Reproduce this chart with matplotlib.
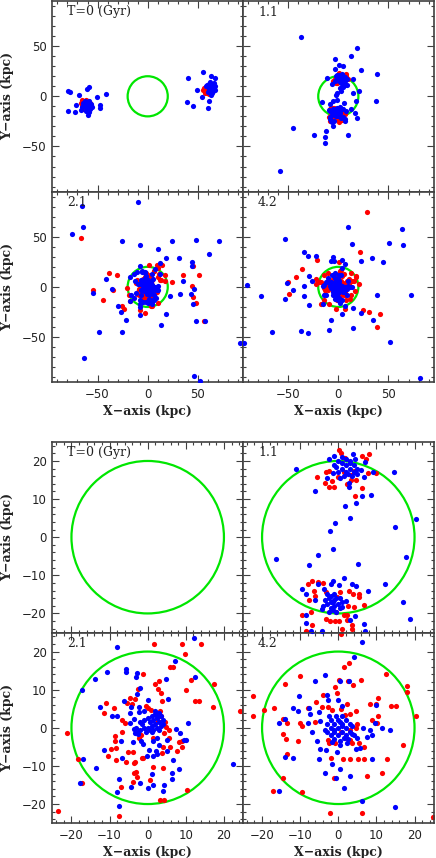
import numpy as np
import matplotlib.pyplot as plt
from matplotlib.patches import Circle
from matplotlib.ticker import MultipleLocator

plt.rcParams["font.family"] = "DejaVu Sans"

panel_labels = ["T=0 (Gyr)", "1.1", "2.1", "4.2"]
r_circle = 20.0

# ---- T = 0 ----
red_t0 = [(-64, -6), (-62, -4), (-60, -5), (-58, -7), (-65, -9), (-63, -11), (-59, -10),
          (-57, -9), (-61, -13), (-64, -13), (-66, -7), (-60, -8), (-62, -9), (-58, -12),
          (-65, -4),
          (57, 5), (59, 3), (56, 8), (58, 9), (60, 6), (61, 2), (55, 6), (59, 7), (62, 4),
          (57, 3)]
blue_t0 = [(-79.4, 5.6), (-77, 4.3), (-79.4, -14.7), (-72.7, -15.4), (-71.7, -8.7),
           (-68.4, 1.3), (-61, 7), (-58.4, 9.6), (-51, -0.3), (-41.7, 2.3), (-47.7, -8.7),
           (-47.7, -12), (-58.4, -16), (-59.4, -18.7), (-66, -13.7),
           (-61, -9), (-63, -8), (-59, -8), (-60, -11), (-62, -12), (-64, -10), (-58, -10),
           (-61, -6), (-63, -5), (-59, -5), (-57, -8), (-65, -11), (-60, -14), (-62, -15),
           (-56, -11), (-62, -7), (-60, -10), (-58, -13), (-64, -7), (-61, -10),
           (40.6, 18), (55.6, 24.6), (63, 20.3), (67.3, 18), (39, -5.4), (45.6, -9.7),
           (60.6, -12), (61.6, -4.4), (49, 6.3), (67.3, 6.3), (54, -0.3),
           (62, 8), (60, 9), (64, 7), (63, 11), (61, 12), (65, 10), (59, 11), (63, 5),
           (66, 8), (61, 6), (64, 3), (60, 4), (66, 13), (62, 14), (58, 10), (65, 5),
           (63, 1), (67, 10)]

# ---- T = 1.1 ----
red_t11 = [(0.3, 22.8), (0.7, 22.1), (-5.6, 15.7), (-3.4, 14.1), (-2.5, 13.3), (-1, 13.1),
           (-1.7, 14.7), (1.7, 20.7), (6.2, 21.4), (8, 21.9), (7.3, 20.5), (6.1, 12.9),
           (4.3, 10.9), (2.2, 14), (4.6, 15.1), (9.9, 16.8), (7.7, 16.8), (-2.5, 17.3),
           (-3.2, 17.1), (1.4, 17.1), (3.4, 16.2), (4, 17.3), (3.4, 15.1), (-0.1, 15.7),
           (-8.0, -12.2), (-6.9, -11.5), (-5.2, -11.8), (-3.9, -12.1), (-6.5, -14.2),
           (-7.6, -16.4), (-6, -15.3), (-7.1, -19.5), (-9.6, -20.5), (-6.8, -23),
           (-8.4, -24.5), (-3.2, -14.4), (-3.1, -21.4), (-0.6, -19.7), (0.3, -22),
           (-0.8, -21.9), (1.6, -20.4), (2.2, -20.3), (0.4, -14.4), (-0.4, -15.7),
           (2.9, -14), (3.9, -15), (2.6, -18), (4.2, -18.4), (2.4, -21.7), (3.7, -23),
           (3.7, -24), (0.9, -24), (1.1, -25.4), (5.3, -15.7), (6.8, -17.9), (5.4, -14.9),
           (-2.2, -21.9)]
blue_t11 = [(-37, 59.6), (18.4, 48.6), (13, 40.3), (-3, 37.6), (1, 31), (4.4, 30),
            (-3.6, 27), (22.4, 26), (38.7, 22.6), (37.7, -4.4), (-45, -32), (-24, -38.4),
            (-12.3, -34.7), (-13, -40.4), (-13, -46.4), (9.7, -38.4), (-58.6, -74),
            (-5, -29.7), (-6, -25.7),
            (-11.1, 17.9), (-6.1, 12.1), (-2.5, 20.5), (-1, 21.2), (3.9, 21.9), (7.1, 19.6),
            (6.8, 15.7), (9.1, 17.1), (8.7, 11.1), (6.3, 10.9), (4.6, 8.9), (1.7, 8.3),
            (3.0, 5.1), (-0.8, 3.7), (-2.1, 1.5), (14.7, 17.2), (14.9, 2.8), (20.4, 4.8),
            (2.9, 13.3), (2.7, 14.1), (-3, 15.5), (-1.5, 16.8),
            (1, 18), (2, 19), (3, 18), (4, 17), (0, 17), (2, 17), (3, 19.5), (1, 19.5),
            (-0.5, 18.5), (4, 19), (5, 18), (2.5, 16.5), (1.5, 16), (3.5, 16), (0.5, 15.5),
            (5, 16.5), (6, 17.5), (-1, 19), (2, 20.5), (3, 20), (4.5, 20.5), (0, 20), (1, 21),
            (-1.3, -3.2), (-5.2, -4.8), (-16.4, -5.8), (-7.8, -7.4), (5.2, -7.1),
            (17.8, -5.1), (1.5, -10.8), (12.3, -12.3), (7.7, -14.2), (3.5, -12.3),
            (4.6, -12.7), (0.3, -12.5), (-1.5, -11.5), (-2, -12.4), (16.9, -16.9),
            (18.8, -21.4), (-9.5, -13.6), (-8.5, -14.9), (-5.2, -12.3), (-3.7, -13.6),
            (-6.1, -16.6), (-4.3, -18.8), (-8.5, -20.5), (-8.5, -22.6), (-7.2, -24.5),
            (-4.3, -24.7), (3.1, -21.6), (4.5, -20.8), (6.8, -22.7), (7.1, -24.5),
            (0.9, -18.2), (2.1, -16.8),
            (-1.5, -17), (-2.5, -16), (-0.5, -16), (-1, -18), (-2, -18.5), (-3, -17.5),
            (0, -17.5), (-2, -15.5), (-1, -15), (0.5, -16), (-3.5, -16.5), (-1.5, -19),
            (-0.5, -19.5), (-2.5, -19.5), (0.5, -18.5), (-3, -15), (-4, -18), (1, -17),
            (-2, -17), (-1, -16.5)]

# ---- T = 2.1 ----
red_t21 = [(-66.4, 48.7), (-38.7, 14.3), (-30.4, 12.3), (-54.7, -3.4), (-45, -13),
           (-34.4, -2.7), (35, 12), (45, 20.6), (51, 12.3), (44.3, 1.3), (45, -10),
           (47.7, -15.7), (56.3, -34.3), (-3, -26), (-26, -19),
           (1.7, 22.1), (8.9, 22.1), (13.9, 21.9), (9.9, 19.3), (5.9, 15.9), (6.6, 15.9),
           (-1.2, 14.2), (3, 12.3), (11.3, 12.6), (17.5, 11.6), (10.1, 9.9), (13.5, 7.1),
           (17, 5.4), (24.2, 4.4), (-21.1, -1.4), (-18.4, -8.1), (-17.2, -14.4),
           (-23.6, -21.7), (-7.6, -23.2), (3.2, -19), (4.3, -19), (10.4, -16.4),
           (1.3, -10.3), (-1.2, -7.8), (-3.5, -9.3), (-3.1, -11.6), (-3.8, -14.1),
           (-5.6, -8.9), (-10.4, -7.5), (-8.4, -5.3), (4.1, -10.6), (3.8, -6.6), (9, -5),
           (8.9, -3.5), (1.9, 11.4), (2.6, 10.3), (3.5, 9.1), (3.8, 7.1), (12.5, 7),
           (-2.5, 10.1), (-4.6, 7.8), (-5.4, 6.5), (-4.1, 6.3), (-3.4, 7.6), (-10.9, 6.5),
           (-11.4, 3.9), (-8.8, 5.3), (-6.8, 2.1), (-5.9, 1.2), (-6.8, -1.1), (-8.5, -2.2),
           (-8.7, -3.4), (-9.6, -5.5), (-8.4, -8.5), (-5.1, -6.3), (-3.8, -6.3),
           (-1.4, -7.9), (-3.3, -9), (-3.5, -11.8), (-7.1, -15.5), (4, -5), (5.9, -5),
           (7.6, -6), (8.1, -3.7), (5.6, -2.8), (4.6, 1.6), (4.8, 0.3), (5.6, -0.5),
           (-0.4, 5.6), (0.2, 5.3), (0.9, 4.6), (2.8, 3.7), (3.5, 3), (3.2, 4.4), (2.8, 1.9),
           (-1.8, -1.9), (-2.3, -2.6), (4.2, -1.4), (1.3, -2.6), (0.6, -13.6), (-2.7, -12.9)]
blue_t21 = [(-65.7, 80.6), (-64.7, 59.6), (-75, 53), (-9.7, 84.3), (-25.4, 46), (-7.7, 42),
            (10.6, 38), (24.6, 45.3), (18.3, 29.3), (31, 29.3), (48, 46.6), (70.6, 45.3),
            (61, 32.3), (44.6, 25.3), (44.3, 21.3), (35, 5.6), (46, -1.7), (32.6, -7.4),
            (43.3, -6.7), (45.6, -17), (18, -26.7), (13.6, -38.4), (47.7, -34), (57.3, -34),
            (-22, -33), (-25.4, -44.7), (-48.4, -44.7), (-26.4, -25), (-29.4, -19.3),
            (-41.4, 8), (-36, -2.4), (-55, -6), (-63.4, -71), (46.6, -89), (52.6, -94),
            (92, -56), (-7.7, -27.7),
            (-8.1, 21.2), (12.1, 23.6), (7.1, 17.4), (-10.8, 14.6), (-5.6, 15.5),
            (-5.8, 14.7), (-2.9, 14.4), (-13.7, 12.7), (4.7, 12.9), (12.4, 13.2),
            (-17.3, 9.9), (-12.6, 5.5), (-9.3, 3.2), (-8.1, 3.2), (10.6, 1.3), (22.4, -9.4),
            (-11.5, -5.9), (-16.9, -8.3), (-13.6, -10.6), (-17.8, -14.5), (-7.4, -13.5),
            (-8, -16.8), (-7.4, -20.5), (-4.4, -15.5), (-2.1, -14.6), (0.2, -15.8),
            (1.5, -15.1), (4.1, -16.6), (1.1, -12), (6.5, -13.5), (8.3, -10.7), (6.5, -11.9),
            (9.4, -3.1), (6.7, -8.5), (-2.5, -1.6), (-7.1, -3.5),
            (-3, 13.4), (-2.9, 8.9), (-2, 10.5), (0.2, 7.2), (-6.2, 7), (5.3, 7.5),
            (-4.5, 5.5), (-2.2, 5.5), (-4.6, 3.9), (-3.7, 2.4), (-2.4, 4.2), (-1.1, 4.3),
            (-4.6, 1.3), (-3.7, -0.2), (-3.3, -1.4), (7.3, -0.2), (8.5, -1.4), (5.1, -3.1),
            (2.5, -2.6), (3, -4.4), (1.5, -3.5), (-1.3, -4.2), (-1.8, -3.4), (-3.9, -3.6),
            (-6.8, -7.8), (0.4, -5.7), (2.3, -6.1), (2.5, -6.9), (5.1, -6.1), (-0.3, -7.4),
            (1.5, -7.5), (10.1, -3.3), (4.2, -15),
            (0, 0), (1, 0.5), (2, 1), (3, 1.5), (-1, 0), (-2, -0.5), (-3, 0), (0.5, 1.5),
            (1.5, 2), (2.5, 2.5), (3.5, 3), (2, 3.5), (1, 3), (3, 4), (2.5, 0), (-1.5, 1),
            (-0.5, -1), (1, -1), (3.5, 0.5), (4, 2), (0, 2.5), (-2, 1.5), (-2.5, -1),
            (1.5, -0.5), (2.5, 3), (0.5, -0.5), (-1, 2), (3, -0.5), (4, 1), (2, 4.5)]

# ---- T = 4.2 ----
red_t42 = [(29, 75), (21.7, 35), (-21, 27.3), (-36.3, 18), (-42.6, 10.3), (-50.6, 5.3),
           (-49, -7), (30.4, -25.4), (41.7, -27), (38.4, -40),
           (0.6, 24.7), (2.7, 17.1), (1.6, 15.9), (0.3, 12.5), (5.9, 12.5), (3.8, 11.3),
           (2.5, 12.2), (-14, 11.6), (-22.3, 8.3), (-22.3, 3.2), (-19.5, 4.8), (-16.9, 5.1),
           (-14.4, 2.2), (-13.4, 1.3), (-9.6, 0.5), (-10, 1.3), (-14.4, -1.5), (-13.7, -3),
           (-10.7, -3.4), (-13.4, -6.8), (-14.4, -13.1), (-17, -16.6), (-9.6, -16.9),
           (-2.2, -22.3), (6.3, -22.3), (24.9, -23.4), (12.5, 14.2), (17.9, 10.9),
           (18.1, 9.4), (20.5, 3.1), (17, -4.5), (11.4, -11.9), (12.9, -8.3), (7.6, -12.7),
           (10.3, 3.2), (13.9, 5.6), (15.2, 5.8), (9.8, 6.3), (8.3, 6.2),
           (-10.1, 13.5), (-0.9, 10.7), (-4.1, 8.7), (-0.4, 9), (2.2, 6.3), (4.6, 4.3),
           (3.1, 3.7), (1.8, 3.3), (0.6, 5), (-1.7, 4.8), (-2.6, 5.5), (-4.4, 5.5),
           (-5.9, 6.8), (-7.9, 5.3), (-6.1, 1.5), (-2.6, -3.1), (-2.4, -4.1), (-0.9, -4.1),
           (0.7, -1.1), (1.8, -2.6), (3.1, -3.1), (3.5, -4), (5.5, -4.1), (6.8, -5),
           (4.6, 0), (5, 0.9), (3.1, -0.5), (1.2, -8.3), (3.1, -8.3), (5.2, -8.3),
           (6.7, -8.3), (-1.9, -7.8), (-1, -13.3), (10.3, 7.7), (8.8, 2), (10.2, 1.3)]
blue_t42 = [(9.4, 59.6), (63.4, 58), (-53, 47.3), (13.4, 42.3), (50.4, 43.6), (64.4, 41.6),
            (-34.3, 34.6), (-30, 30.6), (-22.6, 31.3), (-5, 30), (3.4, 27.3), (22.4, 26),
            (33.4, 29), (44.4, 25), (-90.6, 1.6), (-76.6, -9.4), (-53.3, -12), (-45.6, -3.4),
            (-51, 4), (-34.3, 1.3), (-29.3, 10.6), (-26.6, 5.6), (-34.3, -9.4), (-29, -17.7),
            (-66.3, -44.7), (-37, -43.7), (-30, -46), (-9.3, -43), (-7.6, -32.7),
            (3.7, -27.4), (15, -41.4), (22.4, -26), (34.4, -32.7), (39, -7.7), (72.4, -8),
            (51.7, -55), (-94, -56), (81, -91), (-7, 25.5), (-4.4, 25.5),
            (6.2, 22.5), (4, 18.6), (-3.5, 13.8), (-6.1, 12.2), (2.7, 12.2), (-10.4, 8.4),
            (-11.9, 5.1), (-10.7, 4.5), (-15.5, 1.3), (-14.1, 2.2), (-7.6, 5.3), (-8, 1.3),
            (-7, -1), (-14.1, -7.7), (-11.9, -7.9), (-4.9, -5.5), (-5, -8.1), (-3.5, -11.8),
            (-0.7, -13.3), (3.2, -12.6), (1.5, -15.7), (8.8, -8.3), (11.4, -0.1),
            (13.6, -0.5), (8.8, -2), (7.5, -2.4), (-15.5, -16.6), (6.2, -19.2), (15, -20.8),
            (0.4, 12.3), (-2.9, 8.5), (-2.6, 7.2), (-0.2, 7.4), (1, 5.6), (-7.4, 3.7),
            (-5, 4.2), (-4.8, 1.8), (-5.5, -3.5), (-3.2, -5.9), (-1.7, -3.7), (-0.4, -6.3),
            (0.4, -4.6), (2.4, -4), (3.5, -1.7), (5, -2.8), (6.6, 0), (8.3, -0.5),
            (4.6, -5.5), (5.7, -5.2), (-1.7, -9.4), (0.4, -10.7), (9.9, 5.9), (9.6, 1.3),
            (0, 0), (1, 1), (-1, 1), (2, 0), (-2, 0), (0, 2), (0, -2), (1, -1), (-1, -1),
            (2, 2), (-2, 2), (2, -2), (-2, -2), (3, 1), (-3, -1), (1, 3), (-1, -3), (3, -1),
            (-3, 1), (0.5, -3.5), (1.5, -2.8), (-0.5, 3.2), (3.5, 0.5), (-3.5, -0.5),
            (2.5, -3), (1, 0.5), (-1, -0.5), (0.5, 1.5), (4, -2), (-2.5, 3)]

reds = [red_t0, red_t11, red_t21, red_t42]
blues = [blue_t0, blue_t11, blue_t21, blue_t42]

# layout (pixels)
W, H = 436, 858
x_left, pw, ph = 52.4, 190.6, 190.6
# (top pixel, half range, major, minor)
blocks = [(1.0, 95, 50, 10), (441.9, 25, 10, 2)]

frame_col = "#404040"
fig = plt.figure(figsize=(W / 100, H / 100), dpi=100)

for top, lim, major, minor in blocks:
    for k in range(4):
        row, col = divmod(k, 2)
        x0 = x_left + col * pw
        y0 = top + row * ph
        ax = fig.add_axes([x0 / W, 1 - (y0 + ph) / H, pw / W, ph / H])
        ax.set_xlim(-lim, lim)
        ax.set_ylim(-lim, lim)
        ax.add_patch(Circle((0, 0), r_circle, fill=False, color="#00e600", lw=1.6, zorder=1))
        r = np.array(reds[k], dtype=float)
        b = np.array(blues[k], dtype=float)
        ax.scatter(r[:, 0], r[:, 1], s=14, c="#ff0000", linewidths=0, zorder=2)
        ax.scatter(b[:, 0], b[:, 1], s=14, c="#0000ff", linewidths=0, zorder=3)

        ax.xaxis.set_major_locator(MultipleLocator(major))
        ax.yaxis.set_major_locator(MultipleLocator(major))
        ax.xaxis.set_minor_locator(MultipleLocator(minor))
        ax.yaxis.set_minor_locator(MultipleLocator(minor))
        ax.tick_params(which="both", direction="in", top=True, right=True,
                       color=frame_col, width=0.8, labelsize=8.5, labelcolor="#222222", pad=4)
        ax.tick_params(which="major", length=5)
        ax.tick_params(which="minor", length=2.5)
        for sp in ax.spines.values():
            sp.set_color(frame_col)
            sp.set_linewidth(1.2)
        if row == 0:
            ax.tick_params(labelbottom=False)
        if col == 1:
            ax.tick_params(labelleft=False)
        ax.text(15 / pw, 1 - 11 / ph, panel_labels[k], transform=ax.transAxes,
                ha="left", va="center", fontsize=9, family="DejaVu Serif", color="#222222")

    # axis titles
    for row in range(2):
        yc = top + row * ph + ph / 2
        fig.text(8 / W, 1 - yc / H, "Y\u2212axis (kpc)", rotation=90, ha="center", va="center",
                 fontsize=9, fontweight="bold", family="DejaVu Serif", color="#222222")
    for col in range(2):
        xc = x_left + col * pw + pw / 2
        fig.text(xc / W, 1 - (top + 2 * ph + 29) / H, "X\u2212axis (kpc)", ha="center",
                 va="center", fontsize=9, fontweight="bold", family="DejaVu Serif",
                 color="#222222")

fig.savefig("out.png", dpi=100)
